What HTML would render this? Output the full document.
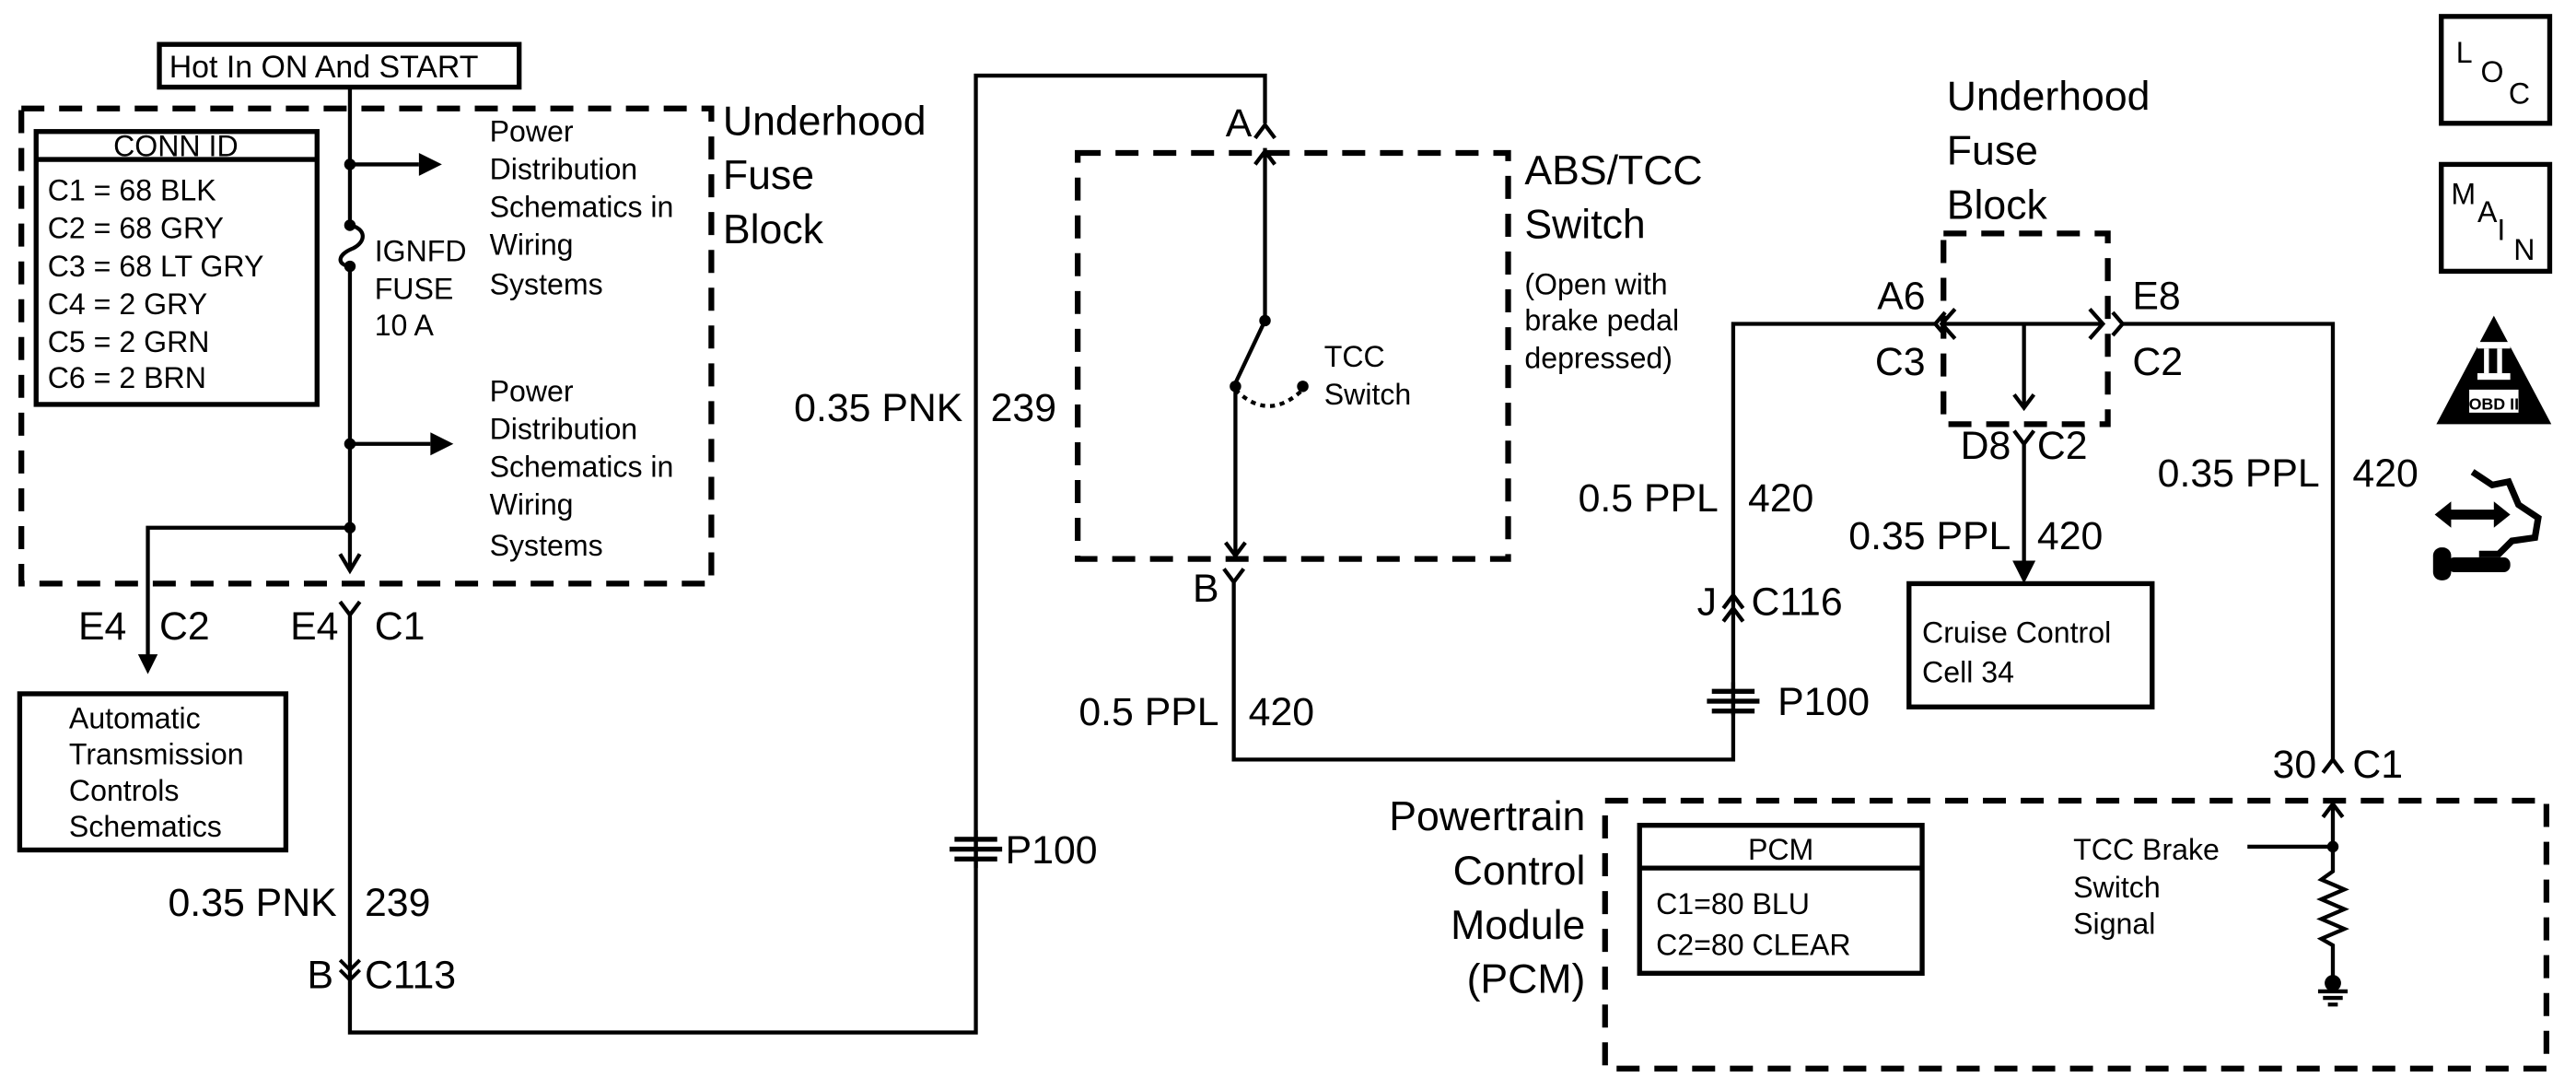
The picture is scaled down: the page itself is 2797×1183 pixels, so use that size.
<!DOCTYPE html>
<html><head><meta charset="utf-8"><style>
html,body{margin:0;padding:0;background:#fff}
svg{display:block}
text{font-family:"Liberation Sans",sans-serif;fill:#000}
.s{font-size:18px}.m{font-size:24px}.l{font-size:25px}
.e{text-anchor:end}
</style></head><body>
<svg width="2797" height="1183" viewBox="0 0 1568 663" preserveAspectRatio="none" xmlns="http://www.w3.org/2000/svg">
<g fill="none" stroke="#000" stroke-width="2.4">
<rect x="13" y="66" width="420" height="289" stroke-width="3.5" stroke-dasharray="14 9"/>
<rect x="656" y="93" width="262" height="247" stroke-width="3.5" stroke-dasharray="14 9"/>
<rect x="1183" y="142" width="100" height="116" stroke-width="3.5" stroke-dasharray="14 9"/>
<rect x="977" y="487" width="573" height="163" stroke-width="3.5" stroke-dasharray="14 9"/>
<rect x="97" y="27" width="219" height="26" stroke-width="3"/>
<rect x="22" y="80" width="171" height="166" stroke-width="3"/>
<line x1="22" y1="97" x2="193" y2="97" stroke-width="3"/>
<rect x="12" y="422" width="162" height="95" stroke-width="3"/>
<rect x="1162" y="355" width="148" height="75" stroke-width="3"/>
<rect x="998" y="502" width="172" height="90" stroke-width="3"/>
<line x1="998" y1="528" x2="1170" y2="528" stroke-width="3"/>
<path d="M213 53V137M213 162V345"/>
<path d="M213 137c10 2 10 10 2 14c-10 4 -10 10 -2 11"/>
<path d="M207 337l6 10l6-10"/>
<path d="M207 366l6 8l6-8M213 374V628H594V46H770V75"/>
<path d="M213 100H255M213 270H262"/>
<path d="M213 321H90V400"/>
<path d="M764 84l6-8l6 8M770 90V195M764 100l6-8l6 8"/>
<path d="M770 195L752 233"/>
<path d="M752 235V338M746 330l6 8l6-8"/>
<path d="M745 346l6 8l6-8M751 354V462H1055V197H1178"/>
<path d="M752 237q20 20 41 0" stroke-dasharray="3 3"/>
<path d="M1049 370l6-8l6 8M1049 378l6-8l6 8"/>
<path d="M1184 190l-6 7l6 7M1190 188l-8 9l8 9M1182 197H1280M1272 188l8 9l-8 9M1286 190l6 7l-6 7M1292 197H1420V462M1232 197V248M1226 240l6 8l6-8"/>
<path d="M1226 262l6 8l6-8M1232 270V343"/>
<path d="M1414 470l6-8l6 8"/>
<path d="M1414 497l6-8l6 8M1420 489V530l-7 5l14 6l-14 6l14 6l-14 6l14 6l-14 6l7 4V595"/>
<path d="M1368 515H1420"/>
<path d="M1411 603H1429M1414 607H1426M1417 611H1423"/>
<path d="M594 505V528"/>
<path d="M1055 415V435"/>
<rect x="1486" y="10" width="66" height="65" stroke-width="3"/>
<rect x="1486" y="100" width="66" height="65" stroke-width="3"/>
<path d="M1505 287l12 8l10 -2l6 14l12 8l-2 12l-14 2l-8 8h-12" stroke-width="4"/>
</g>
<g fill="#000">
<circle cx="213" cy="100" r="3.5"/><circle cx="213" cy="137" r="3.5"/><circle cx="213" cy="162" r="3.5"/>
<circle cx="213" cy="270" r="3.5"/><circle cx="213" cy="321" r="3.5"/>
<circle cx="770" cy="195" r="3.5"/><circle cx="752" cy="235" r="3.5"/><circle cx="793" cy="235" r="3.5"/>
<circle cx="1420" cy="515" r="3.5"/>
<circle cx="1420" cy="598" r="5"/>
<path d="M255 93l14 7l-14 7z"/><path d="M262 263l14 7l-14 7z"/>
<path d="M84 398l6 12l6-12z"/>
<path d="M1225 341l7 14l7-14z"/>
<path d="M1518 192l-35 66h70z"/>
<path d="M1482 313l10-8v5h26v-5l10 8l-10 8v-5h-26v5z"/>
<rect x="1490" y="339" width="38" height="9" rx="4"/>
<rect x="1481" y="333" width="11" height="20" rx="5"/>
</g>
<g fill="#000">
<rect x="581" y="509" width="26" height="3"/><rect x="578" y="515" width="32" height="3"/><rect x="581" y="521" width="26" height="3"/>
<rect x="1042" y="419" width="26" height="3"/><rect x="1039" y="425" width="32" height="3"/><rect x="1042" y="431" width="26" height="3"/>
</g>
<rect x="1503" y="237" width="30" height="14" fill="#fff"/>
<rect x="1508" y="208" width="20" height="4" fill="#fff"/><rect x="1512" y="212" width="3" height="15" fill="#fff"/><rect x="1520" y="212" width="3" height="15" fill="#fff"/><rect x="1508" y="227" width="20" height="4" fill="#fff"/>
<text x="1518" y="249" font-size="10" text-anchor="middle" font-weight="bold">OBD II</text>
<text x="103" y="47" font-size="19">Hot In ON And START</text>
<text x="107" y="95" class="s" text-anchor="middle">CONN ID</text>
<g class="s"><text x="29" y="122">C1 = 68 BLK</text><text x="29" y="145">C2 = 68 GRY</text><text x="29" y="168">C3 = 68 LT GRY</text><text x="29" y="191">C4 = 2 GRY</text><text x="29" y="214">C5 = 2 GRN</text><text x="29" y="236">C6 = 2 BRN</text></g>
<g class="s"><text x="298" y="86">Power</text><text x="298" y="109">Distribution</text><text x="298" y="132">Schematics in</text><text x="298" y="155">Wiring</text><text x="298" y="179">Systems</text>
<text x="298" y="244">Power</text><text x="298" y="267">Distribution</text><text x="298" y="290">Schematics in</text><text x="298" y="313">Wiring</text><text x="298" y="338">Systems</text>
<text x="228" y="159">IGNFD</text><text x="228" y="182">FUSE</text><text x="228" y="204">10 A</text></g>
<g class="l"><text x="440" y="82">Underhood</text><text x="440" y="115">Fuse</text><text x="440" y="148">Block</text>
<text x="928" y="112">ABS/TCC</text><text x="928" y="145">Switch</text>
<text x="1185" y="67">Underhood</text><text x="1185" y="100">Fuse</text><text x="1185" y="133">Block</text>
<text x="965" y="505" text-anchor="end">Powertrain</text><text x="965" y="538" text-anchor="end">Control</text><text x="965" y="571" text-anchor="end">Module</text><text x="965" y="604" text-anchor="end">(PCM)</text></g>
<g class="s"><text x="928" y="179">(Open with</text><text x="928" y="201">brake pedal</text><text x="928" y="224">depressed)</text>
<text x="806" y="223">TCC</text><text x="806" y="246">Switch</text>
<text x="1170" y="391">Cruise Control</text><text x="1170" y="415">Cell 34</text>
<text x="1084" y="523" text-anchor="middle">PCM</text><text x="1008" y="556">C1=80 BLU</text><text x="1008" y="581">C2=80 CLEAR</text>
<text x="1262" y="523">TCC Brake</text><text x="1262" y="546">Switch</text><text x="1262" y="568">Signal</text>
<text x="42" y="443">Automatic</text><text x="42" y="465">Transmission</text><text x="42" y="487">Controls</text><text x="42" y="509">Schematics</text></g>
<g class="m">
<text x="77" y="389" class="e">E4</text><text x="97" y="389">C2</text>
<text x="206" y="389" class="e">E4</text><text x="228" y="389">C1</text>
<text x="586" y="256" class="e">0.35 PNK</text><text x="603" y="256">239</text>
<text x="205" y="557" class="e">0.35 PNK</text><text x="222" y="557">239</text>
<text x="203" y="601" class="e">B</text><text x="222" y="601">C113</text>
<text x="612" y="525">P100</text>
<text x="762" y="83" class="e">A</text><text x="742" y="366" class="e">B</text>
<text x="742" y="441" class="e">0.5 PPL</text><text x="760" y="441">420</text>
<text x="1046" y="311" class="e">0.5 PPL</text><text x="1064" y="311">420</text>
<text x="1045" y="374" class="e">J</text><text x="1066" y="374">C116</text>
<text x="1082" y="435">P100</text>
<text x="1172" y="188" class="e">A6</text><text x="1172" y="228" class="e">C3</text>
<text x="1298" y="188">E8</text><text x="1298" y="228">C2</text>
<text x="1224" y="279" class="e">D8</text><text x="1240" y="279">C2</text>
<text x="1224" y="334" class="e">0.35 PPL</text><text x="1240" y="334">420</text>
<text x="1412" y="296" class="e">0.35 PPL</text><text x="1432" y="296">420</text>
<text x="1410" y="473" class="e">30</text><text x="1432" y="473">C1</text>
<text x="1495" y="38" font-size="18">L</text><text x="1510" y="50" font-size="18">O</text><text x="1527" y="63" font-size="18">C</text>
<text x="1492" y="124" font-size="18">M</text><text x="1508" y="135" font-size="18">A</text><text x="1520" y="146" font-size="18">I</text><text x="1530" y="158" font-size="18">N</text>
</g>
<g fill="none" stroke="#000" stroke-width="2.2"><path d="M207 590l6 6l6-6M207 584l6 6l6-6"/></g>
</svg>
</body></html>
